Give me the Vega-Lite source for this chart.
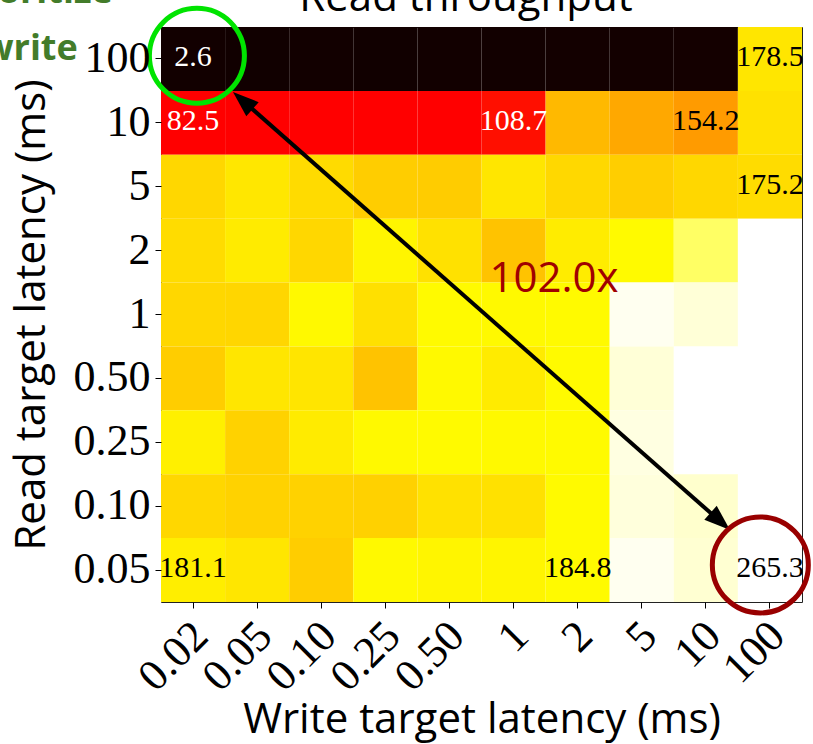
{
  "$schema": "https://vega.github.io/schema/vega-lite/v6.json",
  "width": 641,
  "height": 575,
  "autosize": {"type": "none"},
  "padding": {"left": 161, "top": 27, "right": 11, "bottom": 142},
  "background": "white",
  "config": {"view": {"stroke": "#222222", "strokeWidth": 1}},
  "data": {"values": [
    {"w": "0.02", "r": "100", "v": 2.6, "shown": true},
    {"w": "0.05", "r": "100", "v": 2.5},
    {"w": "0.10", "r": "100", "v": 2.7},
    {"w": "0.25", "r": "100", "v": 2.4},
    {"w": "0.50", "r": "100", "v": 2.8},
    {"w": "1", "r": "100", "v": 2.6},
    {"w": "2", "r": "100", "v": 2.9},
    {"w": "5", "r": "100", "v": 3.1},
    {"w": "10", "r": "100", "v": 3.3},
    {"w": "100", "r": "100", "v": 178.5, "shown": true},
    {"w": "0.02", "r": "10", "v": 82.5, "shown": true},
    {"w": "0.05", "r": "10", "v": 86.1},
    {"w": "0.10", "r": "10", "v": 90.4},
    {"w": "0.25", "r": "10", "v": 95.2},
    {"w": "0.50", "r": "10", "v": 101.3},
    {"w": "1", "r": "10", "v": 108.7, "shown": true},
    {"w": "2", "r": "10", "v": 163.8},
    {"w": "5", "r": "10", "v": 158.4},
    {"w": "10", "r": "10", "v": 154.2, "shown": true},
    {"w": "100", "r": "10", "v": 176.9},
    {"w": "0.02", "r": "5", "v": 173.5},
    {"w": "0.05", "r": "5", "v": 178.6},
    {"w": "0.10", "r": "5", "v": 175.0},
    {"w": "0.25", "r": "5", "v": 170.4},
    {"w": "0.50", "r": "5", "v": 170.1},
    {"w": "1", "r": "5", "v": 178.3},
    {"w": "2", "r": "5", "v": 173.8},
    {"w": "5", "r": "5", "v": 170.5},
    {"w": "10", "r": "5", "v": 173.4},
    {"w": "100", "r": "5", "v": 175.2, "shown": true},
    {"w": "0.02", "r": "2", "v": 175.3},
    {"w": "0.05", "r": "2", "v": 180.1},
    {"w": "0.10", "r": "2", "v": 173.4},
    {"w": "0.25", "r": "2", "v": 183.2},
    {"w": "0.50", "r": "2", "v": 176.9},
    {"w": "1", "r": "2", "v": 167.2},
    {"w": "2", "r": "2", "v": 180.3},
    {"w": "5", "r": "2", "v": 185.0},
    {"w": "10", "r": "2", "v": 207.5},
    {"w": "100", "r": "2", "v": 252.4},
    {"w": "0.02", "r": "1", "v": 173.7},
    {"w": "0.05", "r": "1", "v": 173.2},
    {"w": "0.10", "r": "1", "v": 184.6},
    {"w": "0.25", "r": "1", "v": 176.6},
    {"w": "0.50", "r": "1", "v": 184.8},
    {"w": "1", "r": "1", "v": 184.5},
    {"w": "2", "r": "1", "v": 184.9},
    {"w": "5", "r": "1", "v": 236.9},
    {"w": "10", "r": "1", "v": 231.6},
    {"w": "100", "r": "1", "v": 255.1},
    {"w": "0.02", "r": "0.50", "v": 170.2},
    {"w": "0.05", "r": "0.50", "v": 178.5},
    {"w": "0.10", "r": "0.50", "v": 178.2},
    {"w": "0.25", "r": "0.50", "v": 167.0},
    {"w": "0.50", "r": "0.50", "v": 184.7},
    {"w": "1", "r": "0.50", "v": 180.1},
    {"w": "2", "r": "0.50", "v": 184.8},
    {"w": "5", "r": "0.50", "v": 231.6},
    {"w": "10", "r": "0.50", "v": 249.6},
    {"w": "100", "r": "0.50", "v": 258.7},
    {"w": "0.02", "r": "0.25", "v": 181.6},
    {"w": "0.05", "r": "0.25", "v": 171.9},
    {"w": "0.10", "r": "0.25", "v": 180.0},
    {"w": "0.25", "r": "0.25", "v": 184.7},
    {"w": "0.50", "r": "0.25", "v": 184.9},
    {"w": "1", "r": "0.25", "v": 184.6},
    {"w": "2", "r": "0.25", "v": 185.0},
    {"w": "5", "r": "0.25", "v": 233.7},
    {"w": "10", "r": "0.25", "v": 251.8},
    {"w": "100", "r": "0.25", "v": 260.2},
    {"w": "0.02", "r": "0.10", "v": 173.5},
    {"w": "0.05", "r": "0.10", "v": 171.8},
    {"w": "0.10", "r": "0.10", "v": 172.0},
    {"w": "0.25", "r": "0.10", "v": 171.7},
    {"w": "0.50", "r": "0.10", "v": 176.7},
    {"w": "1", "r": "0.10", "v": 176.9},
    {"w": "2", "r": "0.10", "v": 184.8},
    {"w": "5", "r": "0.10", "v": 232.7},
    {"w": "10", "r": "0.10", "v": 229.5},
    {"w": "100", "r": "0.10", "v": 262.1},
    {"w": "0.02", "r": "0.05", "v": 181.1, "shown": true},
    {"w": "0.05", "r": "0.05", "v": 178.4},
    {"w": "0.10", "r": "0.05", "v": 170.3},
    {"w": "0.25", "r": "0.05", "v": 184.6},
    {"w": "0.50", "r": "0.05", "v": 183.2},
    {"w": "1", "r": "0.05", "v": 183.4},
    {"w": "2", "r": "0.05", "v": 184.8, "shown": true},
    {"w": "5", "r": "0.05", "v": 236.9},
    {"w": "10", "r": "0.05", "v": 230.6},
    {"w": "100", "r": "0.05", "v": 265.3, "shown": true}
  ]},
  "encoding": {
    "x": {
      "field": "w", "type": "ordinal",
      "scale": {"domain": ["0.02", "0.05", "0.10", "0.25", "0.50", "1", "2", "5", "10", "100"], "paddingInner": 0, "paddingOuter": 0},
      "axis": {"title": "Write target latency (ms)", "labelAngle": -45, "labelAlign": "right", "labelBaseline": "middle", "labelFont": "Liberation Serif", "labelFontSize": 44, "labelColor": "black", "labelPadding": 21, "labelOffset": 8, "labelOverlap": false, "tickSize": 6, "tickColor": "black", "domain": false, "titleFont": "Open Sans", "titleFontSize": 42, "titleFontWeight": "normal", "titleColor": "black", "titlePadding": 0}
    },
    "y": {
      "field": "r", "type": "ordinal",
      "scale": {"domain": ["100", "10", "5", "2", "1", "0.50", "0.25", "0.10", "0.05"], "paddingInner": 0, "paddingOuter": 0},
      "axis": {"title": "Read target latency (ms)", "labelFont": "Liberation Serif", "labelFontSize": 44, "labelColor": "black", "labelPadding": 5, "labelOverlap": false, "tickSize": 6, "tickColor": "black", "domain": false, "titleFont": "Open Sans", "titleFontSize": 42, "titleFontWeight": "normal", "titleColor": "black", "titlePadding": 20}
    }
  },
  "layer": [
    {
      "mark": {"type": "rect"},
      "encoding": {
        "color": {"field": "v", "type": "quantitative", "legend": null,
          "scale": {"domain": [0, 82, 104, 186.5, 240, 265.3], "range": ["#0a0000", "#ff0000", "#ff0000", "#ffff00", "#ffffff", "#ffffff"], "interpolate": "rgb"}}
      }
    },
    {
      "transform": [{"filter": "datum.shown"}],
      "mark": {"type": "text", "font": "Liberation Serif", "fontSize": 30, "baseline": "middle", "align": "center", "dy": -2},
      "encoding": {
        "text": {"field": "v", "type": "quantitative", "format": ".1f"},
        "color": {"condition": {"test": "datum.v < 120", "value": "white"}, "value": "black"}
      }
    },
    {
      "data": {"values": [{"label": "Read throughput"}]},
      "mark": {"type": "text", "font": "Open Sans", "fontSize": 42, "color": "black", "align": "center", "baseline": "alphabetic"},
      "encoding": {
        "x": {"datum": "0.50", "type": "ordinal", "bandPosition": 0.758},
        "y": {"datum": "100", "type": "ordinal", "bandPosition": -0.25},
        "text": {"field": "label"}
      }
    },
    {
      "data": {"values": [{"label": "102.0x"}]},
      "mark": {"type": "text", "font": "Open Sans", "fontSize": 42, "color": "#a00000", "align": "center", "baseline": "alphabetic"},
      "encoding": {
        "x": {"datum": "2", "type": "ordinal", "bandPosition": 0.13},
        "y": {"datum": "1", "type": "ordinal", "bandPosition": 0.14},
        "text": {"field": "label"}
      }
    },
    {
      "data": {"values": [{"label": "Prioritize\nwrite"}]},
      "mark": {"type": "text", "font": "Open Sans", "fontSize": 36, "fontWeight": "bold", "color": "#437c2a", "align": "center", "baseline": "alphabetic", "lineBreak": "\n", "lineHeight": 57},
      "encoding": {
        "x": {"datum": "0.02", "type": "ordinal", "bandPosition": -2.04},
        "y": {"datum": "100", "type": "ordinal", "bandPosition": -0.376},
        "text": {"field": "label"}
      }
    },
    {
      "data": {"values": [{}]},
      "mark": {"type": "rule", "strokeWidth": 4, "color": "black"},
      "encoding": {
        "x": {"datum": "0.05", "type": "ordinal", "bandPosition": 0.357},
        "y": {"datum": "10", "type": "ordinal", "bandPosition": 0.224},
        "x2": {"datum": "10", "bandPosition": 0.643},
        "y2": {"datum": "0.10", "bandPosition": 0.667}
      }
    },
    {
      "data": {"values": [{}]},
      "mark": {"type": "point", "shape": "M0,0L-0.36,1L0.36,1Z", "filled": true, "color": "black", "opacity": 1, "size": 2704, "angle": 131.4},
      "encoding": {
        "x": {"datum": "10", "type": "ordinal", "bandPosition": 0.877},
        "y": {"datum": "0.10", "type": "ordinal", "bandPosition": 0.873}
      }
    },
    {
      "data": {"values": [{}]},
      "mark": {"type": "point", "shape": "M0,0L-0.36,1L0.36,1Z", "filled": true, "color": "black", "opacity": 1, "size": 2704, "angle": 311.4},
      "encoding": {
        "x": {"datum": "0.05", "type": "ordinal", "bandPosition": 0.123},
        "y": {"datum": "10", "type": "ordinal", "bandPosition": 0.017}
      }
    },
    {
      "data": {"values": [{}]},
      "mark": {"type": "point", "shape": "circle", "filled": false, "stroke": "#00e400", "strokeWidth": 5, "opacity": 1, "size": 9025},
      "encoding": {
        "x": {"datum": "0.02", "type": "ordinal", "bandPosition": 0.56},
        "y": {"datum": "100", "type": "ordinal", "bandPosition": 0.45}
      }
    },
    {
      "data": {"values": [{}]},
      "mark": {"type": "point", "shape": "circle", "filled": false, "stroke": "#990000", "strokeWidth": 5, "opacity": 1, "size": 9216},
      "encoding": {
        "x": {"datum": "100", "type": "ordinal", "bandPosition": 0.35},
        "y": {"datum": "0.05", "type": "ordinal", "bandPosition": 0.42}
      }
    }
  ]
}
